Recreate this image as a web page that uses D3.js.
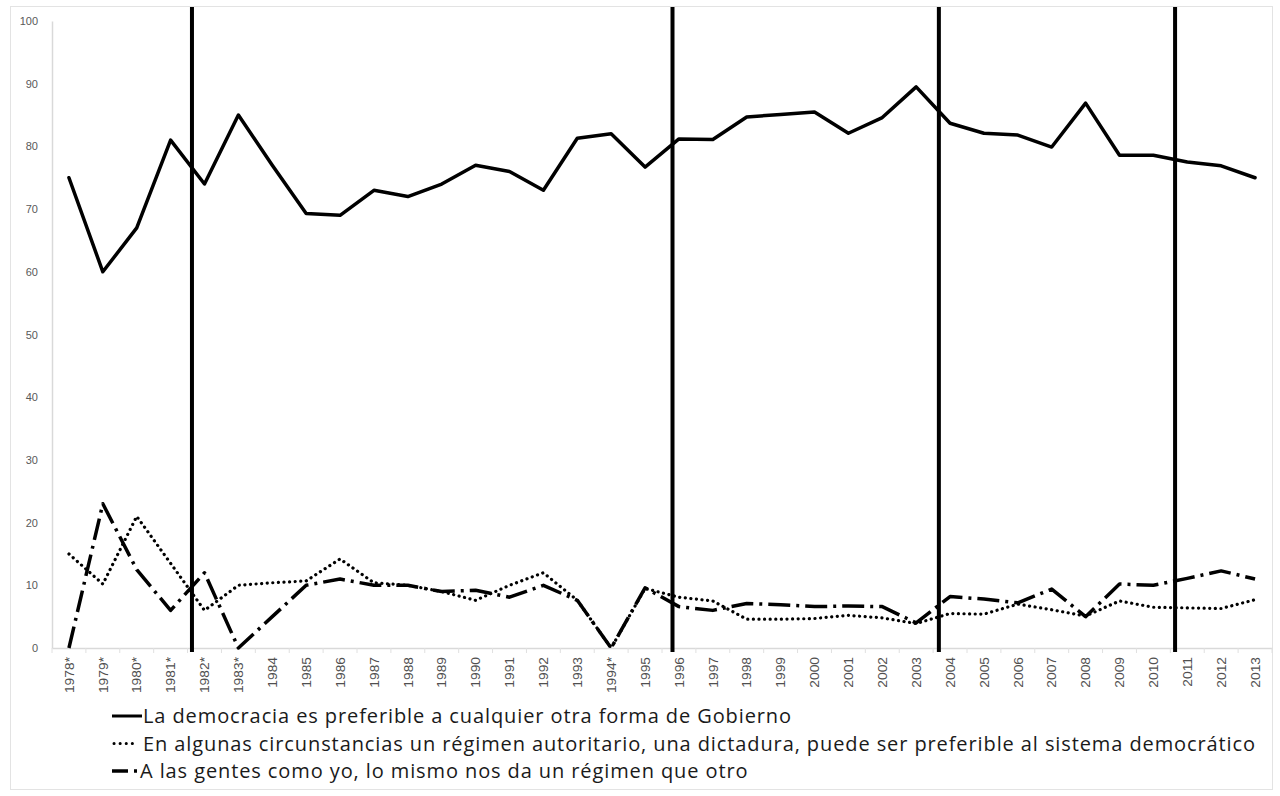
<!DOCTYPE html>
<html>
<head>
<meta charset="utf-8">
<script src="https://cdn.jsdelivr.net/npm/d3@7"></script>
<style>
  html, body { margin: 0; padding: 0; background: #fff; }
  svg { display: block; }
</style>
</head>
<body>
<svg id="chart" width="1280" height="796"></svg>
<script>
// categories (survey years, * = estimate)
const years = ["1978*", "1979*", "1980*", "1981*", "1982*", "1983*", "1984", "1985", "1986", "1987",
  "1988", "1989", "1990", "1991", "1992", "1993", "1994*", "1995", "1996", "1997", "1998", "1999",
  "2000", "2001", "2002", "2003", "2004", "2005", "2006", "2007", "2008", "2009", "2010", "2011",
  "2012", "2013"];

const democracia = [75, 60, 67, 81, 74, 85, 77, 69.3, 69, 73, 72, 74, 77, 76, 73, 81.3, 82, 76.7,
  81.2, 81.1, 84.7, 85.1, 85.5, 82.1, 84.6, 89.5, 83.7, 82.1, 81.8, 79.9, 86.9, 78.6, 78.6, 77.5,
  76.9, 75];
const autoritario = [15, 10.2, 21, 13.5, 6, 10, 10.4, 10.7, 14.2, 10.4, 10, 9, 7.6, 10, 12, 7.6, 0,
  9.5, 8.1, 7.5, 4.6, 4.6, 4.7, 5.2, 4.8, 3.9, 5.5, 5.4, 7, 6.1, 5.1, 7.5, 6.5, 6.4, 6.3, 7.7];
const indiferencia = [0, 23, 12.5, 6, 12, 0, 5, 10, 11, 10, 10, 9, 9.2, 8.1, 10, 7.6, 0, 9.6, 6.6,
  6, 7.1, 6.9, 6.6, 6.7, 6.6, 4, 8.2, 7.8, 7.2, 9.4, 5, 10.2, 10, 11.1, 12.3, 11];

// changes of government, in category units (between two survey years)
const cambios = [3.63, 17.81, 25.67, 32.64];

const yTicks = [0, 10, 20, 30, 40, 50, 60, 70, 80, 90, 100];

const seriesNames = [
  "La democracia es preferible a cualquier otra forma de Gobierno",
  "En algunas circunstancias un régimen autoritario, una dictadura, puede ser preferible al sistema democrático",
  "A las gentes como yo, lo mismo nos da un régimen que otro"
];

const width = 1280;
const height = 796;
const margin = { top: 21, right: 8, bottom: 148, left: 52 };
const plotRight = width - margin.right;
const plotBottom = height - margin.bottom;

const svg = d3.select("#chart");

const x = d3.scalePoint().domain(years).range([margin.left, plotRight]).padding(0.5);
const xi = d3.scaleLinear().domain([-0.5, years.length - 0.5]).range([margin.left, plotRight]);
const y = d3.scaleLinear().domain([0, 100]).range([plotBottom, margin.top]);

// outer frame
svg.append("rect")
  .attr("x", 10.5).attr("y", 6.5)
  .attr("width", 1262).attr("height", 783)
  .attr("fill", "none")
  .attr("stroke", "#e3e3e3");

// y axis
const yAxis = svg.append("g")
  .attr("transform", `translate(${margin.left},0)`)
  .call(d3.axisLeft(y).tickValues(yTicks).tickSize(0).tickPadding(14));
yAxis.select(".domain").attr("stroke", "#d9d9d9").attr("stroke-width", 1.5);
yAxis.selectAll("text")
  .attr("fill", "#595959")
  .style("font-family", "'Liberation Sans', Arial, sans-serif")
  .style("font-size", "11px");

// x axis
const xAxis = svg.append("g")
  .attr("transform", `translate(0,${plotBottom})`)
  .call(d3.axisBottom(x).tickSize(0).tickPadding(0));
xAxis.select(".domain").attr("stroke", "#d9d9d9").attr("stroke-width", 1.5);
xAxis.selectAll("text")
  .attr("fill", "#505050")
  .style("font-family", "'Liberation Sans', Arial, sans-serif")
  .style("font-size", "12px")
  .attr("text-anchor", "end")
  .attr("dy", "0.35em")
  .attr("transform", "translate(0,9) rotate(-90) scale(1.15,1)")
  .attr("x", 0).attr("y", 0);

// minor tick marks between categories
svg.append("g")
  .selectAll("line")
  .data(d3.range(years.length + 1))
  .join("line")
  .attr("x1", d => xi(d - 0.5)).attr("x2", d => xi(d - 0.5))
  .attr("y1", plotBottom).attr("y2", plotBottom + 5)
  .attr("stroke", "#e0e0e0");

// government change markers
svg.append("g")
  .selectAll("line")
  .data(cambios)
  .join("line")
  .attr("x1", d => xi(d)).attr("x2", d => xi(d))
  .attr("y1", 7).attr("y2", plotBottom + 4)
  .attr("stroke", "#000")
  .attr("stroke-width", 4);

const line = d3.line()
  .x((d, i) => x(years[i]))
  .y(d => y(d));

const styles = [
  { data: democracia, dash: null, width: 3.5, cap: "round" },
  { data: autoritario, dash: "0.1,5.5", width: 3.2, cap: "round" },
  { data: indiferencia, dash: "22,6,3,6", width: 3.5, cap: "butt" }
];

svg.append("g")
  .selectAll("path")
  .data(styles)
  .join("path")
  .attr("d", d => line(d.data))
  .attr("fill", "none")
  .attr("stroke", "#000")
  .attr("stroke-width", d => d.width)
  .attr("stroke-linejoin", "round")
  .attr("stroke-linecap", d => d.cap)
  .attr("stroke-dasharray", d => d.dash);

// legend
const legend = svg.append("g").attr("transform", "translate(112,716)");
const rows = legend.selectAll("g")
  .data(seriesNames)
  .join("g")
  .attr("transform", (d, i) => `translate(0,${i * 27.5})`);

rows.each(function(d, i) {
  const g = d3.select(this);
  if (i === 0) {
    g.append("line").attr("x1", 0).attr("x2", 30).attr("y1", 0).attr("y2", 0)
      .attr("stroke", "#000").attr("stroke-width", 3);
  } else if (i === 1) {
    g.append("line").attr("x1", 2).attr("x2", 26).attr("y1", 0).attr("y2", 0)
      .attr("stroke", "#000").attr("stroke-width", 3)
      .attr("stroke-linecap", "round").attr("stroke-dasharray", "0.1,6");
  } else {
    g.append("line").attr("x1", 0).attr("x2", 16).attr("y1", 0).attr("y2", 0)
      .attr("stroke", "#000").attr("stroke-width", 3.5);
    g.append("line").attr("x1", 22).attr("x2", 25).attr("y1", 0).attr("y2", 0)
      .attr("stroke", "#000").attr("stroke-width", 3.5);
  }
  g.append("text")
    .attr("x", i === 2 ? 28 : 31)
    .attr("dy", "0.35em")
    .attr("fill", "#1a1a1a")
    .style("font-family", "'Open Sans', sans-serif")
    .style("font-size", "20px")
    .style("letter-spacing", "0.9px")
    .text(d);
});
</script>
</body>
</html>
